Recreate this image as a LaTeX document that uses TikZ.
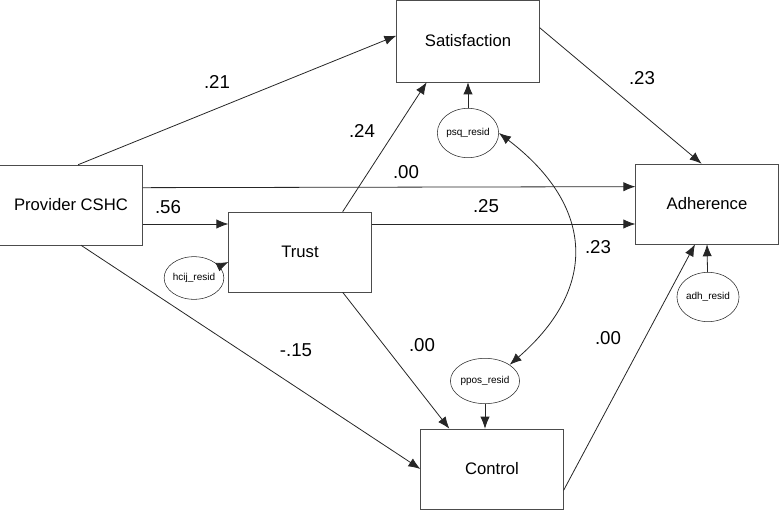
\documentclass[tikz,border=0pt]{standalone}
\usepackage{fontspec}
\setmainfont{Liberation Sans}
\usepackage{tikz}
\usetikzlibrary{arrows.meta, calc, positioning, shapes.geometric}
\tikzstyle{var} = [rectangle, minimum width=107pt, minimum height=60pt, text centered, draw=black!70, font=\fontsize{12.5}{14}\selectfont]
\tikzstyle{resid} = [ellipse, minimum width=37pt, minimum height=37pt, inner sep=0pt, draw=black!85, font=\fontsize{7.5}{8}\selectfont]
\tikzstyle{lbl} = [font=\fontsize{14}{15}\selectfont]
\tikzstyle{arrow} = [semithick, black!85, -{Latex[length=9pt,width=7pt]}]
\tikzstyle{dblarrow} = [semithick, black!85, {Latex[length=9pt,width=7pt]}-{Latex[length=9pt,width=7pt]}]

\begin{document}
\begin{tikzpicture}[x=0.75pt, y=-0.75pt]
\useasboundingbox (0,0) rectangle (782,510);

% Observed variables
\node (prov) [var] at (71,205) {Provider CSHC};
\node (trust) [var] at (300,252) {Trust};
\node (sat) [var, minimum height=61.5pt] at (468,41) {Satisfaction};
\node (adh) [var] at (707,204) {Adherence};
\node (ctrl) [var] at (492,469) {Control};

% Residuals
\node (hcij) [resid, minimum width=33pt, minimum height=32pt] at (194,278) {hcij\_resid};
\node (psq) [resid] at (468,133) {psq\_resid};
\node (ppos) [resid, minimum height=34pt] at (485,381) {ppos\_resid};
\node (adhr) [resid] at (708,297) {adh\_resid};

\coordinate (adhin) at ([yshift=-15pt]adh.west);

% Paths
\draw[arrow] (prov.80) -- ([yshift=4pt]sat.west);
\draw[arrow] ([yshift=13pt]prov.east) -- ([yshift=13pt]adh.west);
\draw[arrow] (prov.east |- adhin) -- (trust.west |- adhin);
\draw[arrow] ([xshift=7.5pt]prov.south) -- (ctrl.west);
\draw[arrow] ([xshift=32pt]trust.north) -- ([xshift=-31pt]sat.south);
\draw[arrow] (trust.east |- adhin) -- (adhin);
\draw[arrow] ([xshift=32pt]trust.south) -- ([xshift=-32pt]ctrl.north);
\draw[arrow] ([yshift=10pt]sat.east) -- ([xshift=-4pt]adh.north);
\draw[arrow] ([yshift=-16pt]ctrl.east) -- ([xshift=-9pt]adh.south);

% Residual arrows
\draw[arrow] (hcij) -- ([yshift=-7.5pt]trust.west);
\draw[arrow] (psq) -- (sat.south);
\draw[arrow] (ppos) -- (ppos |- ctrl.north);
\draw[arrow] (adhr) -- (adh.south);
\draw[dblarrow] (psq.east) .. controls +(92,70) and +(92,-80) .. (ppos.north east);

% Coefficients
\node (c1) [lbl] at (217,82) {.21};
\node (c2) [lbl] at (406,172) {.00};
\node (c3) [lbl] at (168,207) {.56};
\node (c4) [lbl] at (362,131) {.24};
\node (c5) [lbl] at (486,206) {.25};
\node (c6) [lbl] at (422,345) {.00};
\node (c7) [lbl] at (296,350) {-.15};
\node (c8) [lbl] at (642,78) {.23};
\node (c9) [lbl] at (598,247) {.23};
\node (c10) [lbl] at (608,338) {.00};

\end{tikzpicture}
\end{document}
